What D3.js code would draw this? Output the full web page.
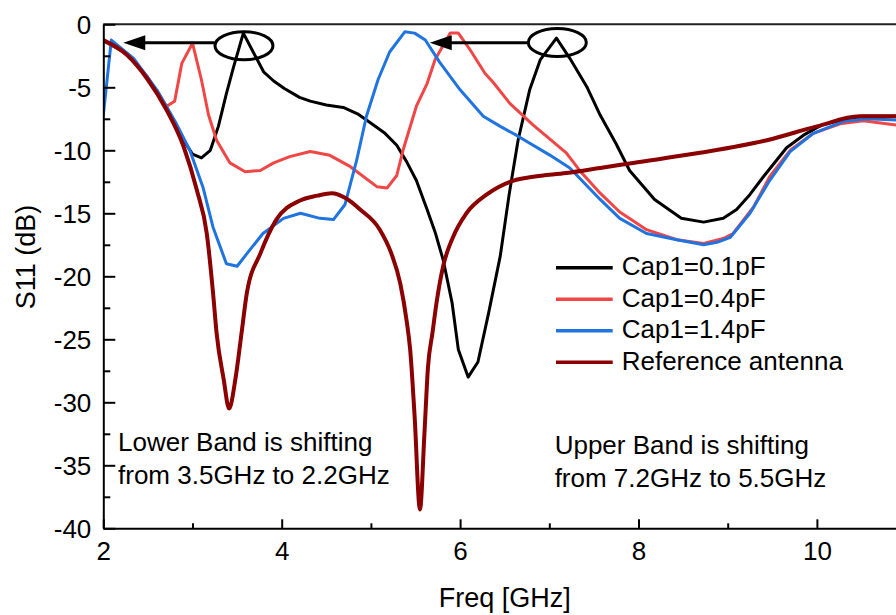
<!DOCTYPE html>
<html>
<head>
<meta charset="utf-8">
<script src="https://cdn.jsdelivr.net/npm/d3@7"></script>
<style>
  html, body { margin: 0; padding: 0; background: #fff; }
  svg { display: block; }
  text { font-family: "Liberation Sans", Arial, sans-serif; fill: #000; }
</style>
</head>
<body>
<svg id="chart" width="896" height="615"></svg>
<script>
// ---------- data ----------
const seriesNames = ["Cap1=0.1pF", "Cap1=0.4pF", "Cap1=1.4pF", "Reference antenna"];
const seriesColors = ["#000000", "#f04646", "#1f74e0", "#8b0000"];

const freqCap01 = [2.0, 2.26, 2.49, 2.71, 2.90, 3.0, 3.10, 3.20, 3.29, 3.38, 3.46, 3.57, 3.68, 3.80, 3.91, 4.03, 4.20, 4.32, 4.50, 4.69, 4.85, 4.99, 5.15, 5.29, 5.40, 5.51, 5.63, 5.72, 5.81, 5.91, 5.98, 6.09, 6.20, 6.32, 6.45, 6.55, 6.65, 6.78, 6.90, 7.08, 7.23, 7.42, 7.57, 7.75, 7.90, 8.18, 8.48, 8.73, 8.95, 9.10, 9.25, 9.40, 9.66, 9.85, 10.05, 10.33, 10.52, 10.80, 11.0];
const s11Cap01  = [-1.3, -2.3, -4.2, -6.6, -9.2, -10.3, -10.6, -10.0, -8.1, -5.5, -3.4, -0.7, -2.2, -3.8, -4.5, -5.1, -5.8, -6.1, -6.4, -6.6, -7.1, -7.8, -8.6, -9.6, -10.9, -12.4, -14.7, -16.5, -18.7, -22.1, -25.8, -28.0, -26.8, -22.9, -18.4, -13.5, -9.2, -5.2, -2.8, -1.1, -2.7, -4.95, -7.2, -9.5, -11.6, -13.9, -15.4, -15.7, -15.4, -14.7, -13.5, -12.1, -9.8, -8.8, -8.0, -7.5, -7.3, -7.3, -7.3];

const freqCap04 = [2.0, 2.26, 2.49, 2.71, 2.80, 2.88, 3.0, 3.10, 3.18, 3.27, 3.42, 3.59, 3.76, 3.91, 4.09, 4.32, 4.54, 4.77, 5.07, 5.18, 5.29, 5.36, 5.51, 5.63, 5.72, 5.89, 5.98, 6.11, 6.28, 6.37, 6.56, 6.82, 7.19, 7.34, 7.57, 7.79, 8.09, 8.43, 8.73, 8.95, 9.06, 9.29, 9.47, 9.70, 9.96, 10.26, 10.52, 10.89, 11.0];
const s11Cap04  = [-1.3, -2.3, -4.1, -6.5, -6.1, -3.1, -1.5, -4.4, -7.2, -9.2, -11.0, -11.7, -11.6, -11.0, -10.5, -10.1, -10.4, -11.3, -12.9, -13.0, -12.0, -10.0, -6.5, -4.7, -2.8, -0.7, -0.7, -2.0, -3.9, -4.6, -6.3, -8.0, -10.2, -11.6, -13.4, -14.9, -16.3, -17.1, -17.4, -17.0, -16.6, -14.5, -12.1, -10.0, -8.65, -7.9, -7.65, -8.0, -8.1];

const freqCap14 = [2.0, 2.09, 2.34, 2.60, 2.82, 2.97, 3.12, 3.23, 3.38, 3.50, 3.61, 3.79, 4.02, 4.21, 4.43, 4.58, 4.71, 4.84, 4.95, 5.08, 5.21, 5.38, 5.49, 5.61, 5.77, 6.0, 6.26, 6.45, 6.63, 7.01, 7.23, 7.57, 7.79, 8.09, 8.43, 8.73, 8.88, 9.03, 9.25, 9.47, 9.70, 9.96, 10.30, 10.56, 10.89, 11.0];
const s11Cap14  = [-7.2, -1.25, -2.7, -5.2, -7.9, -10.0, -13.0, -16.1, -19.0, -19.2, -18.2, -16.6, -15.4, -15.0, -15.4, -15.5, -14.3, -10.8, -7.3, -4.4, -2.2, -0.6, -0.7, -1.25, -3.0, -5.2, -7.3, -8.1, -8.8, -10.4, -11.4, -13.9, -15.4, -16.6, -17.1, -17.5, -17.3, -16.9, -15.0, -12.4, -10.1, -8.65, -7.7, -7.5, -7.6, -7.6];

const freqRef = [2.0, 2.26, 2.49, 2.71, 2.90, 3.05, 3.16, 3.23, 3.27, 3.35, 3.41, 3.48, 3.55, 3.61, 3.76, 3.94, 4.20, 4.40, 4.56, 4.72, 4.88, 5.10, 5.23, 5.33, 5.40, 5.44, 5.49, 5.55, 5.60, 5.64, 5.69, 5.74, 5.81, 5.92, 6.07, 6.30, 6.60, 6.82, 7.19, 7.57, 7.94, 8.69, 9.44, 10.0, 10.48, 10.89, 11.0];
const s11Ref  = [-1.25, -2.4, -4.3, -6.8, -9.7, -13.2, -16.6, -21.3, -24.5, -28.2, -30.5, -28.2, -24.5, -21.3, -18.2, -15.5, -14.0, -13.6, -13.4, -13.8, -14.7, -16.3, -18.2, -20.6, -23.5, -25.8, -31.1, -38.5, -32.5, -27.2, -24.5, -21.9, -19.2, -16.9, -15.0, -13.5, -12.4, -12.1, -11.8, -11.4, -11.0, -10.2, -9.2, -8.1, -7.3, -7.3, -7.3];

const xMajorTicks = [2, 4, 6, 8, 10];
const xMinorTicks = [3, 5, 7, 9];
const yMajorTicks = [0, -5, -10, -15, -20, -25, -30, -35, -40];
const yMinorTicks = [-2.5, -7.5, -12.5, -17.5, -22.5, -27.5, -32.5, -37.5];

// annotations (data units)
const ellipseCenters = [[3.577, -1.7], [7.09, -1.44]];
const arrowsFrom = [[3.25, -1.46], [6.76, -1.46]];
const arrowsTo   = [[2.224, -1.46], [5.66, -1.46]];
const noteLower = ["Lower Band is shifting", "from 3.5GHz to 2.2GHz"];
const noteUpper = ["Upper Band is shifting", "from 7.2GHz to 5.5GHz"];

// ---------- layout ----------
const svg = d3.select("#chart");
const x = d3.scaleLinear().domain([2, 11]).range([103.3, 906.1]);
const y = d3.scaleLinear().domain([-40, 0]).range([528.3, 24.3]);
const FS = 26;
const plainFmt = d => String(d);

const defs = svg.append("defs");
defs.append("clipPath").attr("id", "plotclip")
  .append("rect").attr("x", x(2)).attr("y", y(0) - 2).attr("width", x(11) - x(2)).attr("height", y(-40) - y(0) + 4);

// frame top line
svg.append("line").attr("x1", x(2)).attr("x2", x(11)).attr("y1", y(0)).attr("y2", y(0))
  .attr("stroke", "#222").attr("stroke-width", 2);

// curves
const series = [
  {f: freqCap01, s: s11Cap01, w: 3, curve: d3.curveLinear},
  {f: freqCap04, s: s11Cap04, w: 3, curve: d3.curveLinear},
  {f: freqCap14, s: s11Cap14, w: 3, curve: d3.curveLinear},
  {f: freqRef,   s: s11Ref,   w: 4, curve: d3.curveMonotoneX}
];
const gLines = svg.append("g").attr("clip-path", "url(#plotclip)");
series.forEach((sr, i) => {
  const pts = sr.f.map((fv, k) => [fv, sr.s[k]]);
  const line = d3.line().x(d => x(d[0])).y(d => y(d[1])).curve(sr.curve);
  gLines.append("path").datum(pts).attr("d", line)
    .attr("fill", "none").attr("stroke", seriesColors[i]).attr("stroke-width", sr.w)
    .attr("stroke-linejoin", "round").attr("stroke-linecap", "round");
});

// axes
const yAxis = d3.axisLeft(y).tickValues(yMajorTicks).tickSizeInner(-12).tickSizeOuter(0).tickPadding(12).tickFormat(plainFmt);
const gy = svg.append("g").attr("transform", `translate(${x(2)},0)`).call(yAxis);
gy.selectAll(".tick text").attr("font-size", FS).attr("font-family", "Liberation Sans, Arial, sans-serif").attr("dy", "0.36em");
gy.select(".domain").attr("stroke", "#000").attr("stroke-width", 2);
gy.selectAll(".tick line").attr("stroke", "#000").attr("stroke-width", 2);
const yMinor = d3.axisLeft(y).tickValues(yMinorTicks).tickSize(-7).tickFormat("");
const gym = svg.append("g").attr("transform", `translate(${x(2)},0)`).call(yMinor);
gym.select(".domain").remove();
gym.selectAll(".tick line").attr("stroke", "#000").attr("stroke-width", 2);

const xAxis = d3.axisBottom(x).tickValues(xMajorTicks).tickSizeInner(-9).tickSizeOuter(0).tickPadding(13).tickFormat(plainFmt);
const gx = svg.append("g").attr("transform", `translate(0,${y(-40)})`).call(xAxis);
gx.selectAll(".tick text").attr("font-size", FS).attr("font-family", "Liberation Sans, Arial, sans-serif");
gx.select(".domain").attr("stroke", "#000").attr("stroke-width", 2);
gx.selectAll(".tick line").attr("stroke", "#000").attr("stroke-width", 2);
const xMinor = d3.axisBottom(x).tickValues(xMinorTicks).tickSize(-5).tickFormat("");
const gxm = svg.append("g").attr("transform", `translate(0,${y(-40)})`).call(xMinor);
gxm.select(".domain").remove();
gxm.selectAll(".tick line").attr("stroke", "#000").attr("stroke-width", 2);

// axis titles
svg.append("text").attr("x", (x(2) + x(11)) / 2).attr("y", 607)
  .attr("text-anchor", "middle").attr("font-size", 27).text("Freq [GHz]");
svg.append("text").attr("transform", "translate(35,257) rotate(-90)")
  .attr("text-anchor", "middle").attr("font-size", 27).text("S11 (dB)");

// ellipses and arrows
const gAnn = svg.append("g");
ellipseCenters.forEach(c => {
  gAnn.append("ellipse").attr("cx", x(c[0])).attr("cy", y(c[1])).attr("rx", 29).attr("ry", 14)
    .attr("fill", "none").attr("stroke", "#000").attr("stroke-width", 3);
});
arrowsFrom.forEach((a, i) => {
  const b = arrowsTo[i];
  const x1 = x(a[0]), y1 = y(a[1]), x2 = x(b[0]), y2 = y(b[1]);
  const headLen = 22, headHalf = 7.5;
  gAnn.append("line").attr("x1", x1).attr("y1", y1).attr("x2", x2 + headLen - 2).attr("y2", y2)
    .attr("stroke", "#000").attr("stroke-width", 3);
  gAnn.append("path")
    .attr("d", `M${x2},${y2} L${x2 + headLen},${y2 - headHalf} L${x2 + headLen},${y2 + headHalf} Z`)
    .attr("fill", "#000");
});

// notes
const addNote = (lines, fx, sy) => {
  const t = svg.append("text").attr("font-size", FS);
  lines.forEach((ln, i) => {
    t.append("tspan").attr("x", x(fx)).attr("y", y(sy) + i * 32.6).text(ln);
  });
};
addNote(noteLower, 2.165, -33.9);
addNote(noteUpper, 7.06, -34.1);

// legend
const legend = svg.append("g");
seriesNames.forEach((name, i) => {
  const ly = 267.7 + i * 31.5;
  legend.append("line").attr("x1", 556).attr("x2", 612.7).attr("y1", ly).attr("y2", ly)
    .attr("stroke", seriesColors[i]).attr("stroke-width", 3.5);
  legend.append("text").attr("x", 621.7).attr("y", ly + 7.5).attr("font-size", FS).text(name);
});
</script>
</body>
</html>
